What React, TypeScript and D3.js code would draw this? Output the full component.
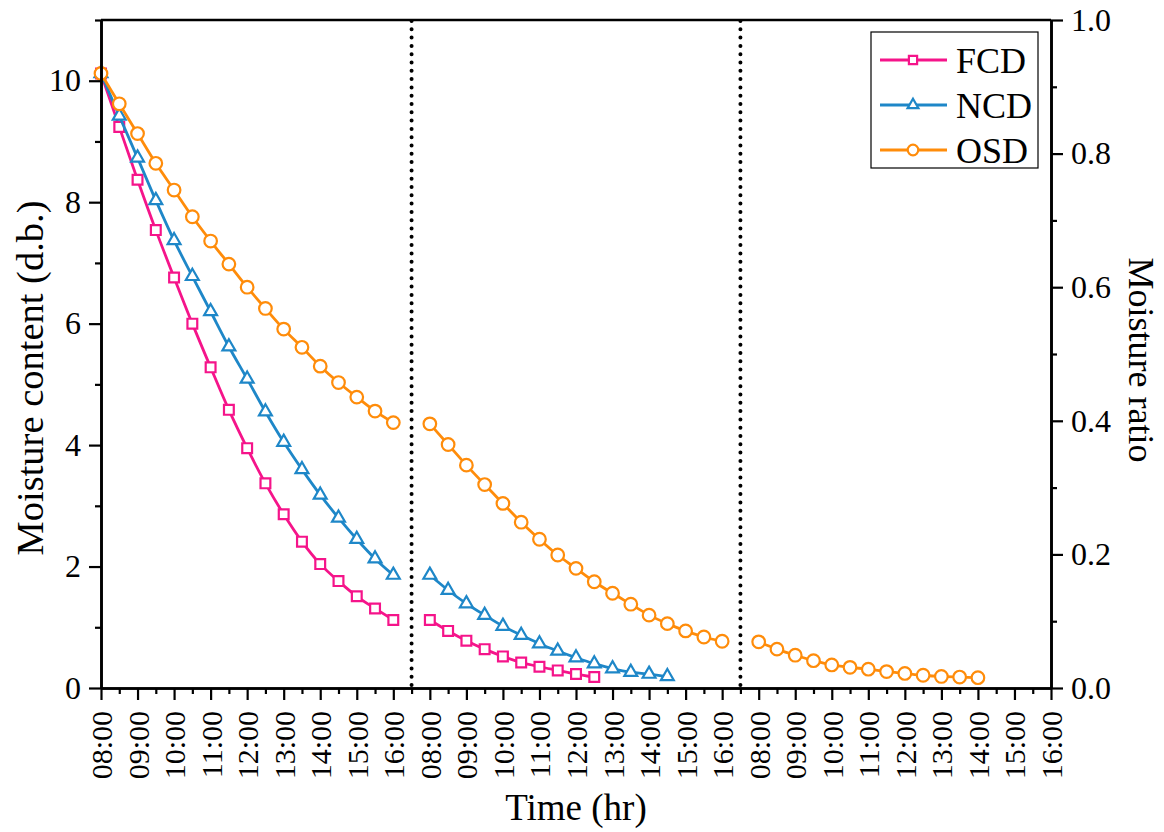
import React, { useEffect, useRef } from "react";
import * as d3 from "d3";

// ---- data ----
const hourLabels = ["08:00", "09:00", "10:00", "11:00", "12:00", "13:00", "14:00", "15:00", "16:00"];
const dayCount = 3;
const mcTicks = [0, 2, 4, 6, 8, 10];
const mcMinorTicks = [1, 3, 5, 7, 9, 11];
const mrTicks = [0, 0.2, 0.4, 0.6, 0.8, 1.0];
const mrMinorTicks = [0.1, 0.3, 0.5, 0.7, 0.9];

const fcdDay1 = [10.12, 9.24, 8.37, 7.54, 6.76, 6.0, 5.28, 4.58, 3.95, 3.37, 2.86, 2.41, 2.04, 1.76, 1.51, 1.31, 1.12];
const fcdDay2 = [1.12, 0.94, 0.78, 0.64, 0.52, 0.42, 0.35, 0.29, 0.23, 0.18];
const ncdDay1 = [10.12, 9.42, 8.73, 8.03, 7.37, 6.78, 6.2, 5.62, 5.09, 4.55, 4.05, 3.6, 3.18, 2.8, 2.45, 2.13, 1.86];
const ncdDay2 = [1.86, 1.61, 1.39, 1.2, 1.02, 0.87, 0.73, 0.61, 0.5, 0.4, 0.32, 0.26, 0.23, 0.19];
const osdDay1 = [10.12, 9.62, 9.13, 8.64, 8.2, 7.76, 7.36, 6.98, 6.6, 6.25, 5.91, 5.61, 5.3, 5.03, 4.79, 4.56, 4.37];
const osdDay2 = [4.35, 4.01, 3.67, 3.35, 3.04, 2.73, 2.45, 2.19, 1.97, 1.75, 1.56, 1.38, 1.2, 1.06, 0.94, 0.84, 0.77];
const osdDay3 = [0.76, 0.64, 0.54, 0.45, 0.38, 0.34, 0.31, 0.27, 0.24, 0.21, 0.19, 0.18, 0.17];

const seriesNames = ["FCD", "NCD", "OSD"];
const seriesColors = ["#F5148A", "#1E87C8", "#FF8C0A"];
const seriesDays = [
  [fcdDay1, fcdDay2],
  [ncdDay1, ncdDay2],
  [osdDay1, osdDay2, osdDay3],
];

const W = 1164;
const H = 832;
const FONT = "'Liberation Serif', 'Times New Roman', serif";

export default function App() {
  const ref = useRef<SVGSVGElement | null>(null);

  useEffect(() => {
    const svg = d3.select(ref.current);
    svg.selectAll("*").remove();

    const left = 101, right = 1051, top = 20, bottom = 688;
    const hoursPerDay = hourLabels.length - 1; // 8
    const daySpan = hoursPerDay + 1; // 9 units incl. gap
    const xMax = daySpan * (dayCount - 1) + hoursPerDay; // 26

    const x = d3.scaleLinear().domain([0, xMax]).range([left, right]);
    const yL = d3.scaleLinear().domain([0, 11]).range([bottom, top]);
    const yR = d3.scaleLinear().domain([0, 1]).range([bottom, top]);

    const tickIdx = d3.range(0, xMax + 1);
    const minorIdx = d3.range(0, xMax).map((v) => v + 0.5);
    const labelFor = (i: number) => hourLabels[i % daySpan];

    const g = svg.append("g");

    // day separators
    for (let d = 0; d < dayCount - 1; d++) {
      const sx = x(d * daySpan + hoursPerDay + 0.5);
      g.append("line")
        .attr("x1", sx).attr("x2", sx)
        .attr("y1", top + 1).attr("y2", bottom)
        .attr("stroke", "#000")
        .attr("stroke-width", 4)
        .attr("stroke-linecap", "round")
        .attr("stroke-dasharray", "0 8.3");
    }

    // series
    const line = d3
      .line<[number, number]>()
      .x((d) => x(d[0]))
      .y((d) => yL(d[1]))
      .curve(d3.curveCatmullRom.alpha(0.5));

    const symbols = [d3.symbolSquare, d3.symbolTriangle, d3.symbolCircle];
    const symSizes = [96, 72, 125];

    seriesDays.forEach((days, si) => {
      const color = seriesColors[si];
      const sg = g.append("g");
      days.forEach((vals, d) => {
        const pts: [number, number][] = vals.map((v, i) => [d * daySpan + i * 0.5, v]);
        sg.append("path")
          .attr("d", line(pts))
          .attr("fill", "none")
          .attr("stroke", color)
          .attr("stroke-width", 2.8);
        sg.selectAll(null)
          .data(pts)
          .enter()
          .append("path")
          .attr("d", d3.symbol().type(symbols[si]).size(symSizes[si])())
          .attr("transform", (p) => `translate(${x(p[0])},${yL(p[1])})`)
          .attr("fill", "#fff")
          .attr("stroke", color)
          .attr("stroke-width", 2.2);
      });
    });

    // axes
    const styleAxis = (sel: any, fs: number) => {
      sel.attr("font-family", FONT).attr("font-size", fs);
      sel.selectAll("path.domain").attr("stroke", "#000").attr("stroke-width", 2.6);
      sel.selectAll(".tick line").attr("stroke", "#000").attr("stroke-width", 2.2);
      sel.selectAll(".tick text").attr("fill", "#000");
    };

    // left
    const la = g.append("g").attr("transform", `translate(${left},0)`)
      .call(d3.axisLeft(yL).tickValues(mcTicks).tickSize(12).tickSizeOuter(0).tickPadding(8).tickFormat(d3.format("d")));
    styleAxis(la, 32);
    const lm = g.append("g").attr("transform", `translate(${left},0)`)
      .call(d3.axisLeft(yL).tickValues(mcMinorTicks).tickSize(6).tickSizeOuter(0).tickFormat(() => ""));
    styleAxis(lm, 32);

    // right
    const ra = g.append("g").attr("transform", `translate(${right},0)`)
      .call(d3.axisRight(yR).tickValues(mrTicks).tickSize(12).tickSizeOuter(0).tickPadding(8).tickFormat(d3.format(".1f")));
    styleAxis(ra, 32);
    const rm = g.append("g").attr("transform", `translate(${right},0)`)
      .call(d3.axisRight(yR).tickValues(mrMinorTicks).tickSize(6).tickSizeOuter(0).tickFormat(() => ""));
    styleAxis(rm, 32);

    // bottom
    const ba = g.append("g").attr("transform", `translate(0,${bottom})`)
      .call(d3.axisBottom(x).tickValues(tickIdx).tickSize(12).tickSizeOuter(0).tickFormat((i: any) => labelFor(i)));
    styleAxis(ba, 30);
    ba.selectAll(".tick text")
      .attr("transform", "rotate(-90)")
      .attr("text-anchor", "end")
      .attr("x", -23)
      .attr("y", 0)
      .attr("dy", "0.35em");
    const bm = g.append("g").attr("transform", `translate(0,${bottom})`)
      .call(d3.axisBottom(x).tickValues(minorIdx).tickSize(6).tickSizeOuter(0).tickFormat(() => ""));
    styleAxis(bm, 30);

    // top border
    g.append("line")
      .attr("x1", left).attr("x2", right)
      .attr("y1", top).attr("y2", top)
      .attr("stroke", "#000").attr("stroke-width", 2.6);

    // titles
    g.append("text")
      .attr("transform", `translate(${(left + right) / 2},820)`)
      .attr("text-anchor", "middle")
      .attr("font-family", FONT).attr("font-size", 37)
      .text("Time (hr)");
    g.append("text")
      .attr("transform", `translate(43,378) rotate(-90)`)
      .attr("text-anchor", "middle")
      .attr("font-family", FONT).attr("font-size", 38.5)
      .text("Moisture content (d.b.)");
    g.append("text")
      .attr("transform", `translate(1129,360) rotate(90)`)
      .attr("text-anchor", "middle")
      .attr("font-family", FONT).attr("font-size", 36)
      .text("Moisture ratio");

    // legend
    const lg = g.append("g");
    lg.append("rect")
      .attr("x", 871).attr("y", 32).attr("width", 167).attr("height", 136)
      .attr("fill", "#fff").attr("stroke", "#000").attr("stroke-width", 1.2);
    seriesNames.forEach((name, si) => {
      const ly = 60 + si * 45;
      lg.append("line")
        .attr("x1", 880).attr("x2", 947).attr("y1", ly).attr("y2", ly)
        .attr("stroke", seriesColors[si]).attr("stroke-width", 2.8);
      lg.append("path")
        .attr("d", d3.symbol().type(symbols[si]).size(symSizes[si] * 0.7)())
        .attr("transform", `translate(913,${ly})`)
        .attr("fill", "#fff").attr("stroke", seriesColors[si]).attr("stroke-width", 2.2);
      lg.append("text")
        .attr("x", 956).attr("y", ly).attr("dy", "0.35em")
        .attr("font-family", FONT).attr("font-size", 36)
        .text(name);
    });
  }, []);

  return (
    <svg
      ref={ref}
      width={W}
      height={H}
      style={{ position: "absolute", left: 0, top: 0, background: "#fff" }}
    />
  );
}
